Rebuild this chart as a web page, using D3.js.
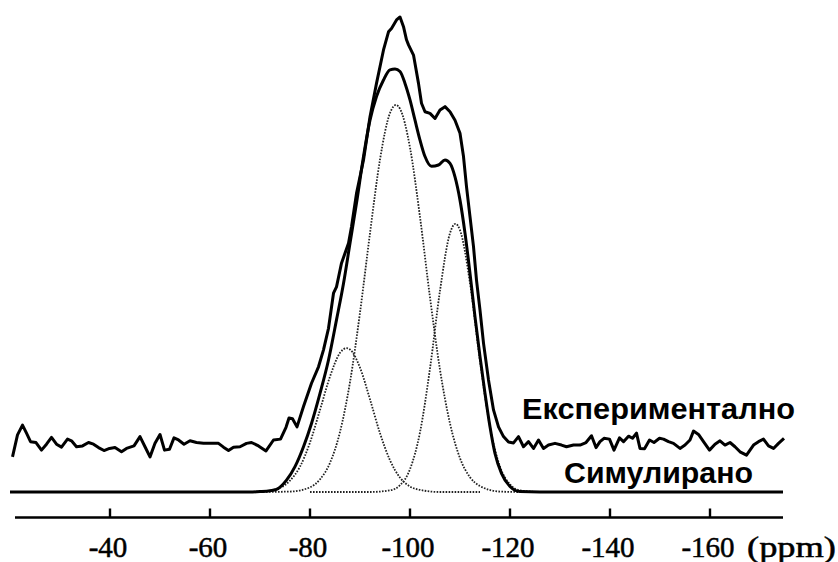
<!DOCTYPE html>
<html>
<head>
<meta charset="utf-8">
<script src="https://cdn.jsdelivr.net/npm/d3@7"></script>
<style>
  html, body { margin: 0; padding: 0; background: #fff; }
  svg { display: block; }
</style>
</head>
<body>
<svg id="chart" width="838" height="562"></svg>
<script>
// 29Si MAS NMR spectrum: experimental trace, simulated fit and its three components.
// Chemical shift in ppm, intensity normalised so the simulated maximum is 100.

const tickValues = [-40, -60, -80, -100, -120, -140, -160];
const unitLabel = "(ppm)";
const expLabel = "Експериментално";
const simLabel = "Симулирано";

// experimental spectrum (drawn with its own vertical offset)
const expPpm = [-20.5, -21.5, -22.5, -23.3, -24.1, -25.2, -26.3, -27.3, -28.3, -29.3, -30.3, -31.5, -32.3, -33.3, -34.5, -35.7, -36.7, -37.7, -38.8, -39.9, -41, -42.3, -43.3, -44.8, -46, -47, -48, -49, -50, -50.9, -51.9, -52.8, -53.7, -54.8, -56, -57.3, -58.7, -60, -61.7, -62.7, -63.7, -64.7, -66, -67.3, -68.3, -69.7, -71.2, -72.7, -74.1, -75.2, -75.8, -76.5, -77.4, -78.7, -80.3, -81.7, -82.7, -83.7, -84.7, -85.3, -86.3, -87.7, -88.3, -89.3, -90.7, -92, -93.3, -94.7, -95.7, -96.3, -97.3, -98, -98.7, -99.3, -99.7, -100.7, -101, -101.7, -102.3, -103, -104, -105, -106, -107, -108, -109, -110, -110.7, -111.3, -112, -112.7, -113.3, -114, -114.7, -115.7, -116.7, -117.7, -118.7, -119.7, -120.7, -121.7, -122.7, -123.7, -124.7, -125.7, -126.7, -127.7, -129, -130.3, -131.3, -132.7, -134, -135.2, -136.3, -137.2, -138, -138.8, -139.9, -140.8, -141.9, -142.7, -143.7, -144.5, -145.3, -146, -146.9, -147.9, -148.8, -149.9, -150.7, -151.7, -152.7, -154, -155, -156, -156.7, -157.7, -158.7, -159.9, -161, -162, -163, -164, -165, -166, -167.3, -168.7, -169.7, -170.7, -171.7, -172.7, -173.7, -174.8];
const expInt = [8.3, 13.5, 15.8, 13.9, 11.9, 11.7, 9.9, 11.3, 12.9, 11.3, 10.6, 12.5, 12.1, 10.7, 10.9, 11.7, 11.3, 10.5, 9.8, 10.3, 10.5, 9.5, 10.3, 10.9, 13.1, 10.7, 8.3, 11.5, 13.6, 9.9, 10.1, 12.8, 12.3, 11.3, 12.1, 11.7, 11.5, 11.5, 11.5, 10.6, 9.8, 10.6, 10.7, 11.5, 11.7, 10.9, 9.7, 12.3, 12.5, 15.3, 17.5, 17.3, 15.4, 20.2, 25.7, 29.6, 33.6, 38.7, 47.0, 48.5, 54.1, 58.8, 62.7, 70.6, 78.5, 88.7, 96.6, 104.5, 108.8, 109.6, 111.6, 112.3, 110.0, 106.9, 105.7, 103.3, 101.3, 96.6, 91.9, 89.9, 89.5, 88.3, 90.3, 91.1, 89.9, 87.9, 84.8, 79.3, 72.2, 65.1, 58.0, 50.1, 43.0, 35.2, 26.5, 19.4, 15.4, 13.1, 11.8, 11.6, 13.1, 10.7, 11.9, 10.3, 12.3, 10.3, 11.1, 11.5, 11.1, 10.7, 11.1, 11.1, 11.7, 13.3, 10.5, 11.9, 12.7, 12.5, 9.9, 12.8, 11.9, 13.2, 12.7, 13.9, 10.3, 10.2, 12.3, 11.7, 12.7, 12.5, 11.9, 11.5, 10.3, 11.1, 12.3, 14.4, 13.6, 11.9, 9.9, 11.3, 12.1, 11.1, 11.7, 10.7, 9.5, 8.7, 11.1, 11.9, 12.5, 10.9, 10.3, 11.5, 12.7];

// simulated spectrum (sum of the components)
const simPpm = [-20, -60, -68, -70, -72, -73.3, -75.3, -77, -78.7, -80.3, -82, -83.7, -85.3, -86.7, -88, -89.3, -90.7, -92, -93.3, -94.7, -96, -97, -98, -99, -100, -101, -102, -103, -104.3, -105.7, -107, -108, -109, -110, -111, -112, -113, -114, -115, -116, -117, -118.3, -120, -122, -126, -140, -174.6];
const simInt = [0, 0, 0, 0.1, 0.3, 0.6, 2.8, 6.0, 10.7, 16.2, 23.3, 31.2, 40.7, 49.3, 58.8, 68.3, 79.3, 87.9, 93.5, 97.4, 99.8, 100, 99.4, 96.6, 92.7, 87.9, 83.2, 79.3, 77.0, 77.3, 78.5, 77.7, 74.5, 69.0, 61.2, 51.7, 41.4, 32.0, 23.3, 15.4, 9.1, 4.4, 1.3, 0.1, 0, 0, 0];

// component lines
const q3aPpm = [-62, -66, -70, -74, -76, -78, -80, -82, -84, -86, -87.3, -88, -90, -92, -94, -96, -98, -100, -102, -106, -114];
const q3aInt = [0, 0, 0.1, 1.0, 2.7, 6.0, 11.7, 19.4, 27.3, 32.9, 34.0, 33.7, 29.4, 21.9, 13.9, 7.5, 3.4, 1.3, 0.5, 0, 0];

const q4aPpm = [-70, -76, -80, -82, -84, -86, -88, -90, -92, -94, -96, -97.2, -98, -100, -102, -104, -106, -108, -110, -112, -114, -118, -122, -128];
const q4aInt = [0, 0.1, 1.1, 3.0, 6.9, 14.2, 26.0, 42.4, 61.2, 78.6, 89.6, 91.5, 90.6, 81.4, 65.0, 46.0, 28.9, 16.2, 8.0, 3.5, 1.4, 0.1, 0, 0];

const q4bPpm = [-80, -92, -96, -98, -100, -102, -104, -106, -108, -109.1, -110, -112, -114, -116, -118, -120, -122, -126, -134];
const q4bInt = [0, 0, 0.4, 1.6, 5.4, 14.1, 29.2, 47.6, 61.2, 63.4, 61.9, 49.4, 31.0, 15.4, 6.0, 1.8, 0.4, 0, 0];

const zip = (xs, ys) => xs.map((p, i) => ({ p, v: ys[i] }));

const svg = d3.select("#chart");

const x = d3.scaleLinear().domain([-20, -174.6]).range([10, 783]);
const y = d3.scaleLinear().domain([0, 100]).range([492, 69]);

const smooth = d3.line().x(d => x(d.p)).y(d => y(d.v)).curve(d3.curveMonotoneX);
const jagged = d3.line().x(d => x(d.p)).y(d => y(d.v)).curve(d3.curveLinear);

// component peaks, thin dotted
[[q3aPpm, q3aInt], [q4aPpm, q4aInt], [q4bPpm, q4bInt]].forEach(([ps, vs]) => {
  svg.append("path")
    .datum(zip(ps, vs))
    .attr("d", smooth)
    .attr("fill", "none")
    .attr("stroke", "#222")
    .attr("stroke-width", 1.8)
    .attr("stroke-dasharray", "1.6,1.4");
});

// simulated
svg.append("path")
  .datum(zip(simPpm, simInt))
  .attr("d", smooth)
  .attr("fill", "none")
  .attr("stroke", "#000")
  .attr("stroke-width", 3)
  .attr("stroke-linejoin", "round");

// experimental
svg.append("path")
  .datum(zip(expPpm, expInt))
  .attr("d", jagged)
  .attr("fill", "none")
  .attr("stroke", "#000")
  .attr("stroke-width", 3)
  .attr("stroke-linejoin", "round");

// x axis: baseline with short upward ticks
const axisY = 517.5;
const tickLen = 9;
const axisPath = `M${x(-21)},${axisY}H${x(-174.6)}` +
  tickValues.map(t => `M${x(t)},${axisY}V${axisY - tickLen}`).join("");
svg.append("path")
  .attr("d", axisPath)
  .attr("fill", "none")
  .attr("stroke", "#000")
  .attr("stroke-width", 2.4);

const tickFont = "'Liberation Serif', 'Times New Roman', serif";
svg.append("g").selectAll("text")
  .data(tickValues)
  .join("text")
  .attr("x", d => x(d) - 2)
  .attr("y", 557)
  .attr("text-anchor", "middle")
  .attr("font-family", tickFont)
  .attr("font-size", 29)
  .attr("fill", "#000")
  .attr("stroke", "#000")
  .attr("stroke-width", 0.5)
  .text(d => d);

svg.append("text")
  .attr("x", 747)
  .attr("y", 557)
  .attr("font-family", tickFont)
  .attr("font-size", 29)
  .attr("textLength", 89)
  .attr("lengthAdjust", "spacingAndGlyphs")
  .attr("fill", "#000")
  .attr("stroke", "#000")
  .attr("stroke-width", 0.5)
  .text(unitLabel);

// trace labels
svg.append("text")
  .attr("x", 522)
  .attr("y", 419)
  .attr("font-family", "'Liberation Sans', Arial, sans-serif")
  .attr("font-weight", "bold")
  .attr("font-size", 29)
  .attr("textLength", 273)
  .attr("lengthAdjust", "spacingAndGlyphs")
  .attr("fill", "#000")
  .text(expLabel);

svg.append("text")
  .attr("x", 564)
  .attr("y", 483)
  .attr("font-family", "'Liberation Sans', Arial, sans-serif")
  .attr("font-weight", "bold")
  .attr("font-size", 29)
  .attr("textLength", 189)
  .attr("lengthAdjust", "spacingAndGlyphs")
  .attr("fill", "#000")
  .text(simLabel);
</script>
</body>
</html>
